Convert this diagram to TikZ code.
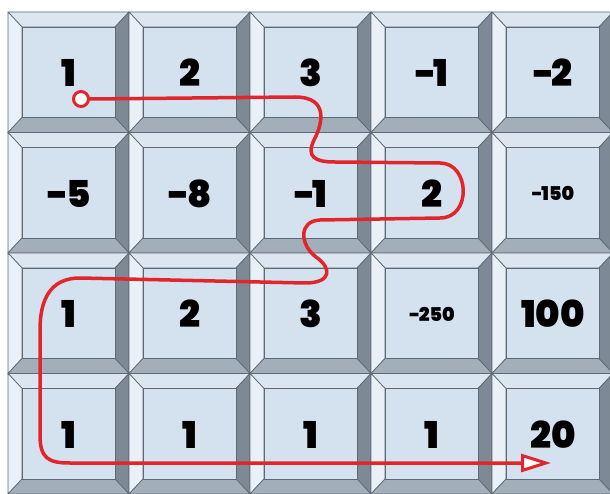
\documentclass[tikz,border=0pt]{standalone}
\usepackage{fontspec}
\IfFontExistsTF{Poppins Black}
    {\setmainfont{Poppins}[BoldFont=Poppins Black]}
    {\setmainfont{Poppins}}
\usetikzlibrary{arrows.meta}

\definecolor{facecol}{HTML}{D4E1EE}
\definecolor{topcol}{HTML}{DCE6F0}
\definecolor{leftcol}{HTML}{E9F0F8}
\definecolor{rightcol}{HTML}{7D8995}
\definecolor{bottomcol}{HTML}{A2AEBA}
\definecolor{edgecol}{HTML}{5F6974}
\definecolor{routered}{HTML}{E2252B}

% tight minus sign for the tile values
\newcommand{\tilemin}{-\kern-0.07em}

\begin{document}
\begin{tikzpicture}[
    x=1pt,
    y=-1pt,
    facet/.style={draw=edgecol, line width=0.7pt, line join=round},
    bignum/.style={font=\fontsize{37}{37}\selectfont\bfseries},
    smallnum/.style={font=\fontsize{19}{19}\selectfont\bfseries},
    route/.style={draw=routered, line width=3.5pt, line cap=round, line join=round}
]

\useasboundingbox (0,0) rectangle (610,494);

% =================================================
% TILES
% =================================================

\begin{scope}
\clip (0,0) rectangle (610,494);
\foreach \c in {0,...,4}{
    \foreach \r in {0,...,3}{

        \pgfmathsetmacro{\xa}{8+121*\c}
        \pgfmathsetmacro{\xb}{\xa+121}
        \pgfmathsetmacro{\ya}{12+120.5*\r}
        \pgfmathsetmacro{\yb}{\ya+120.5}

        % Top bevel
        \filldraw[facet, fill=topcol]
            (\xa,\ya) -- (\xb,\ya) -- ({\xb-14},{\ya+15}) -- ({\xa+14},{\ya+15}) -- cycle;

        % Left bevel
        \filldraw[facet, fill=leftcol]
            (\xa,\ya) -- ({\xa+14},{\ya+15}) -- ({\xa+14},{\yb-15}) -- (\xa,\yb) -- cycle;

        % Right bevel
        \filldraw[facet, fill=rightcol]
            (\xb,\ya) -- (\xb,\yb) -- ({\xb-14},{\yb-15}) -- ({\xb-14},{\ya+15}) -- cycle;

        % Bottom bevel
        \filldraw[facet, fill=bottomcol]
            (\xa,\yb) -- (\xb,\yb) -- ({\xb-14},{\yb-15}) -- ({\xa+14},{\yb-15}) -- cycle;

        % Face
        \filldraw[facet, fill=facecol]
            ({\xa+14},{\ya+15}) rectangle ({\xb-14},{\yb-15});
    }
}
\end{scope}

% Tile values
\foreach \c/\r/\v/\s in {
    0/0/1/bignum,          1/0/2/bignum,          2/0/3/bignum,
    3/0/\tilemin1/bignum,  4/0/\tilemin2/bignum,
    0/1/\tilemin5/bignum,  1/1/\tilemin8/bignum,  2/1/\tilemin1/bignum,
    3/1/2/bignum,          4/1/\tilemin150/smallnum,
    0/2/1/bignum,          1/2/2/bignum,          2/2/3/bignum,
    3/2/\tilemin250/smallnum, 4/2/100/bignum,
    0/3/1/bignum,          1/3/1/bignum,          2/3/1/bignum,
    3/3/1/bignum,          4/3/20/bignum}{
    \node[\s, inner sep=0pt] (n\c\r) at ({69+121*\c},{73+120.5*\r}) {\v};
}

% =================================================
% ROUTE
% =================================================

\node[
    circle,
    draw=routered,
    line width=3pt,
    fill=white,
    minimum size=15pt,
    inner sep=0pt
] (start) at (81,99) {};

\coordinate (goal) at (551,463);

\draw[
    route,
    -{Triangle[length=30pt, width=18pt, fill=white, line width=3pt]}
] (start.east) -- (295,97)
    .. controls (330,97) and (322,125) .. (314,140)
    .. controls (306,157) and (315,162) .. (335,162)
    -- (440,163)
    .. controls (470,163) and (472,218) .. (440,218)
    -- (320,220)
    .. controls (298,221) and (300,245) .. (316,257)
    .. controls (332,268) and (332,283) .. (305,283)
    -- (80,278)
    .. controls (50,278) and (40,300) .. (40,330)
    -- (40,435)
    .. controls (40,458) and (48,463) .. (70,463)
    -- (goal);

\end{tikzpicture}
\end{document}
